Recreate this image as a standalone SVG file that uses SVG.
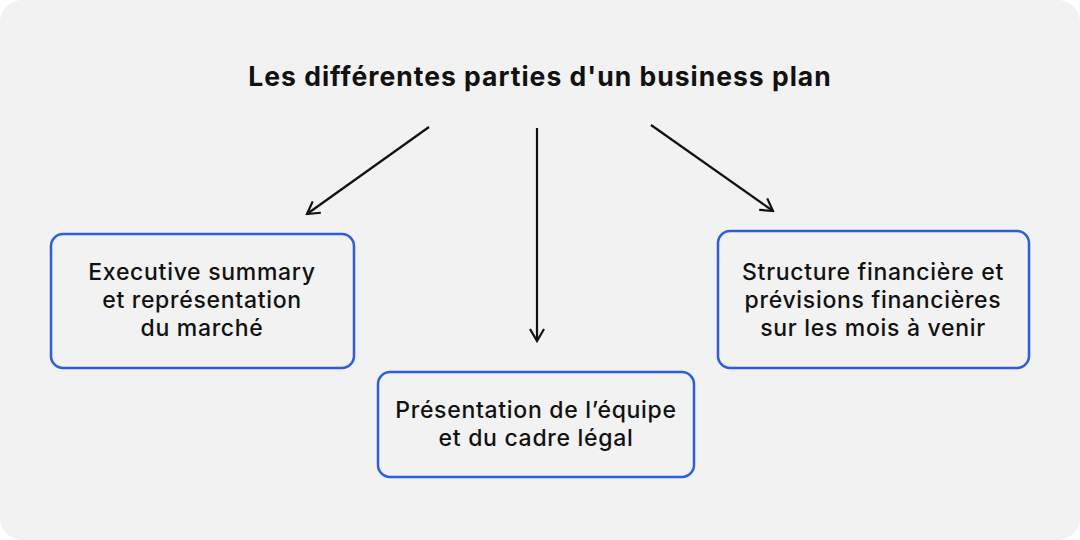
<svg xmlns="http://www.w3.org/2000/svg" width="1080" height="540" viewBox="0 0 1080 540">
<defs>
<style>
.box{fill:none;stroke:#2a5bea;stroke-width:2.5}
.t{font-family:Inter,"Noto Sans",sans-serif;font-size:23px;letter-spacing:0.7px;font-weight:500;fill:#111;text-anchor:middle}
.c{stroke:#111;stroke-width:2.2;fill:none}
</style>
<marker id="ah" viewBox="0 0 16 16" refX="14" refY="8" markerWidth="16" markerHeight="16" markerUnits="userSpaceOnUse" orient="auto">
<path d="M2,1 L14,8 L2,15" fill="none" stroke="#111" stroke-width="2.2"/>
</marker>
</defs>
<rect width="1080" height="540" fill="#fff"/>
<rect width="1080" height="540" rx="22" fill="#f2f2f2"/>
<text x="540" y="86" class="t" style="font-size:26.5px;letter-spacing:1px;font-weight:700">Les différentes parties d'un business plan</text>
<g id="connectors">
<line class="c" x1="429" y1="127" x2="307" y2="214" marker-end="url(#ah)"/>
<line class="c" x1="537" y1="128" x2="537" y2="341" marker-end="url(#ah)"/>
<line class="c" x1="651" y1="125" x2="773" y2="211" marker-end="url(#ah)"/>
</g>
<g id="left">
<rect class="box" x="51" y="234" width="303" height="134" rx="12"/>
<text class="t" x="202" y="280">Executive summary</text>
<text class="t" x="202" y="308">et représentation</text>
<text class="t" x="202" y="336">du marché</text>
</g>
<g id="middle">
<rect class="box" x="378" y="372" width="316" height="105" rx="12"/>
<text class="t" x="536" y="418">Présentation de l’équipe</text>
<text class="t" x="536" y="446">et du cadre légal</text>
</g>
<g id="right">
<rect class="box" x="718" y="231" width="311" height="137" rx="12"/>
<text class="t" x="873" y="280">Structure financière et</text>
<text class="t" x="873" y="308">prévisions financières</text>
<text class="t" x="873" y="336">sur les mois à venir</text>
</g>
</svg>
